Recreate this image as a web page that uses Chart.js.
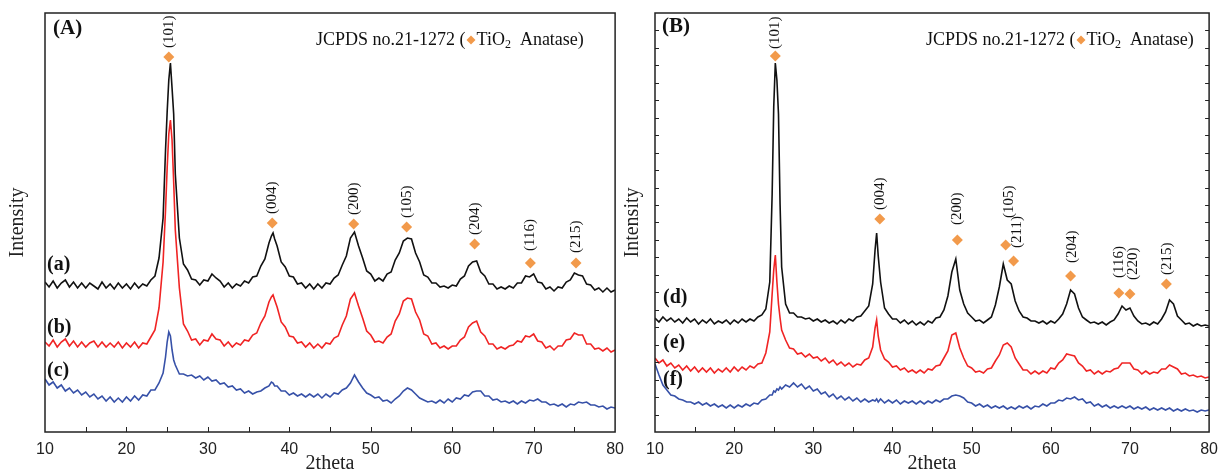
<!DOCTYPE html>
<html>
<head>
<meta charset="utf-8">
<script src="https://cdn.jsdelivr.net/npm/chart.js@4.4.1/dist/chart.umd.min.js"></script>
<style>
  html, body { margin: 0; padding: 0; background: #fff; }
  #wrap { position: relative; width: 1226px; height: 474px; overflow: hidden; }
  canvas { position: absolute; top: 0; }
  #chartA { left: 0; }
  #chartB { left: 620px; }
</style>
</head>
<body>
<div id="wrap">
  <canvas id="chartA" width="632" height="474"></canvas>
  <canvas id="chartB" width="606" height="474"></canvas>
</div>
<script>
// 2theta grid (deg), denser around the sharp peaks
var twoTheta = [
  10, 10.5, 11, 11.5, 12, 12.5, 13, 13.5, 14, 14.5,
  15, 15.5, 16, 16.5, 17, 17.5, 18, 18.5, 19, 19.5,
  20, 20.5, 21, 21.5, 22, 22.5, 23, 23.5, 24, 24.5,
  24.8, 25, 25.2, 25.4, 25.6, 25.8,
  26, 26.5, 27, 27.5, 28, 28.5, 29, 29.5, 30, 30.5,
  31, 31.5, 32, 32.5, 33, 33.5, 34, 34.5, 35, 35.5,
  36, 36.5, 37, 37.5, 37.8, 38, 38.2,
  38.5, 39, 39.5, 40, 40.5, 41, 41.5, 42, 42.5, 43,
  43.5, 44, 44.5, 45, 45.5, 46, 46.5, 47, 47.5, 48,
  48.5, 49, 49.5, 50, 50.5, 51, 51.5, 52, 52.5, 53,
  53.5, 54, 54.5, 55, 55.5, 56, 56.5, 57, 57.5, 58,
  58.5, 59, 59.5, 60, 60.5, 61, 61.5, 62, 62.5, 63,
  63.5, 64, 64.5, 65, 65.5, 66, 66.5, 67, 67.5, 68,
  68.5, 69, 69.5, 70, 70.5, 71, 71.5, 72, 72.5, 73,
  73.5, 74, 74.5, 75, 75.5, 76, 76.5, 77, 77.5, 78,
  78.5, 79, 79.5, 80
];

// panel (A) intensities, a.u. (stacked offsets as plotted)
var sampleA = [
  150, 145, 151, 144, 149, 152, 145, 150, 144, 149,
  144, 149, 146, 143, 150, 144, 148, 143, 149, 144,
  148, 143, 149, 144, 148, 146, 152, 156, 174, 214,
  282, 320, 352, 369, 344, 318,
  258, 194, 168, 162, 153, 152, 147, 152, 151, 158,
  154, 151, 145, 149, 144, 148, 146, 151, 149, 155,
  156, 166, 173, 189, 196, 199, 193,
  186, 170, 165, 156, 155, 148, 149, 144, 148, 143,
  148, 144, 149, 148, 154, 157, 167, 176, 194, 200,
  186, 174, 161, 158, 151, 154, 151, 158, 160, 172,
  179, 191, 194, 193, 179, 170, 157, 155, 149, 149,
  145, 146, 144, 147, 146, 153, 156, 166, 170, 171,
  160, 156, 148, 148, 143, 145, 143, 146, 144, 149,
  149, 156, 155, 158, 150, 149, 143, 145, 141, 145,
  144, 150, 152, 159, 157, 156, 148, 147, 142, 144,
  140, 144, 140, 142
];
var sampleB = [
  90, 86, 92, 85, 90, 93, 86, 91, 85, 90,
  85, 89, 91, 85, 90, 85, 89, 85, 90, 84,
  89, 85, 90, 84, 89, 88, 95, 102, 124, 170,
  222, 264, 298, 312, 292, 250,
  202, 144, 108, 101, 92, 93, 87, 92, 91, 98,
  93, 92, 86, 90, 85, 89, 87, 92, 91, 97,
  99, 109, 116, 130, 135, 137, 132,
  125, 110, 105, 96, 95, 89, 90, 85, 89, 84,
  88, 84, 89, 88, 94, 96, 107, 116, 133, 139,
  126, 114, 101, 97, 90, 91, 89, 95, 98, 111,
  118, 131, 134, 133, 120, 112, 98, 96, 88, 89,
  84, 86, 83, 86, 86, 92, 95, 105, 109, 111,
  100, 96, 88, 88, 83, 85, 83, 86, 87, 91,
  90, 96, 95, 98, 91, 90, 84, 86, 82, 86,
  86, 92, 93, 99, 97, 97, 88, 88, 83, 84,
  81, 84, 80, 82
];
var sampleC = [
  53, 47, 50, 44, 47, 41, 44, 39, 42, 37,
  40, 35, 38, 33, 36, 31, 35, 30, 34, 30,
  35, 31, 36, 32, 37, 36, 42, 42, 49, 59,
  75, 90, 100, 96, 82, 72,
  67, 58, 58, 56, 57, 54, 56, 52, 55, 51,
  52, 48, 49, 45, 46, 42, 43, 39, 41, 38,
  40, 41, 44, 46, 50, 49, 46,
  46, 41, 41, 37, 39, 36, 38, 35, 38, 35,
  38, 34, 38, 35, 39, 38, 42, 44, 49, 57,
  50, 44, 39, 37, 34, 35, 31, 32, 29, 33,
  36, 41, 44, 42, 38, 34, 32, 30, 31, 29,
  32, 29, 33, 30, 34, 33, 37, 36, 40, 41,
  41, 36, 36, 32, 33, 30, 31, 29, 31, 28,
  31, 29, 32, 31, 33, 30, 30, 27, 28, 26,
  28, 25, 28, 27, 30, 29, 30, 27, 27, 25,
  26, 23, 25, 24
];

// panel (B) intensities, a.u.
var sampleD = [
  114, 110, 115, 111, 114, 110, 113, 109, 114, 110,
  113, 108, 112, 109, 113, 108, 111, 109, 112, 108,
  112, 109, 113, 110, 113, 111, 115, 117, 123, 150,
  238, 325, 369, 352, 318, 228,
  165, 128, 119, 119, 115, 115, 113, 114, 111, 113,
  110, 112, 109, 111, 108, 112, 109, 113, 111, 115,
  116, 121, 126, 148, 182, 199, 176,
  150, 124, 118, 113, 113, 109, 112, 108, 111, 107,
  110, 107, 111, 109, 114, 115, 122, 136, 160, 173,
  142, 128, 119, 115, 111, 112, 109, 112, 115, 127,
  145, 168, 152, 148, 131, 121, 115, 114, 111, 111,
  109, 111, 108, 111, 109, 113, 118, 128, 142, 138,
  124, 115, 112, 109, 110, 108, 110, 107, 110, 112,
  118, 126, 122, 124, 116, 111, 108, 109, 107, 110,
  108, 113, 120, 132, 128, 116, 112, 108, 109, 106,
  108, 106, 107, 106
];
var sampleE = [
  74, 69, 72, 66, 69, 64, 67, 62, 66, 61,
  65, 60, 64, 60, 64, 59, 63, 60, 64, 60,
  65, 61, 65, 62, 66, 64, 68, 69, 79, 100,
  138, 162, 177, 150, 128, 114,
  102, 92, 84, 83, 78, 79, 75, 78, 74, 75,
  71, 74, 69, 72, 67, 70, 66, 69, 65, 68,
  67, 72, 74, 85, 104, 112, 96,
  82, 73, 70, 65, 66, 62, 64, 60, 62, 59,
  62, 59, 63, 62, 66, 67, 74, 81, 97, 99,
  84, 74, 66, 64, 60, 61, 59, 63, 64, 71,
  77, 87, 89, 85, 74, 68, 62, 62, 58, 61,
  58, 61, 59, 64, 63, 69, 72, 78, 77, 76,
  69, 66, 61, 62, 58, 61, 58, 61, 60, 63,
  64, 69, 69, 69, 63, 62, 58, 61, 58, 60,
  59, 63, 63, 67, 65, 63, 58, 59, 56, 57,
  55, 56, 54, 55
];
var sampleF = [
  68, 57, 47, 42, 37, 36, 33, 32, 30, 30,
  28, 30, 27, 29, 26, 28, 25, 27, 24, 27,
  24, 27, 25, 28, 26, 29, 28, 32, 33, 37,
  37, 41, 40, 43, 42, 45,
  43, 47, 45, 49, 45, 48, 43, 46, 41, 43,
  38, 40, 35, 38, 33, 36, 32, 35, 31, 34,
  30, 33, 30, 32, 31, 33, 30,
  33, 29, 32, 29, 32, 28, 31, 29, 31, 28,
  31, 28, 31, 29, 32, 30, 33, 33, 36, 37,
  36, 34, 30, 29, 26, 28, 25, 27, 24, 26,
  24, 26, 23, 25, 23, 26, 24, 26, 23, 26,
  25, 28, 26, 29, 29, 32, 31, 34, 33, 35,
  32, 33, 29, 30, 26, 28, 25, 27, 24, 26,
  24, 26, 24, 26, 23, 25, 23, 25, 22, 24,
  22, 24, 22, 24, 21, 23, 21, 23, 21, 22,
  20, 22, 21, 22
];

var namesA = ['(a)', '(b)', '(c)'];
var namesB = ['(d)', '(e)', '(f)'];

// anatase reflections: label, 2theta, marker height
var hklA = ['(101)', '(004)', '(200)', '(105)', '(204)', '(116)', '(215)'];
var peakA = [25.2, 37.9, 47.9, 54.4, 62.75, 69.6, 75.2];
var markA = [375, 209, 208, 205, 188, 169, 169];

var hklB = ['(101)', '(004)', '(200)', '(105)', '(211)', '(204)', '(116)', '(220)', '(215)'];
var peakB = [25.2, 38.4, 48.2, 54.3, 55.3, 62.5, 68.6, 70.0, 74.6];
var markB = [376, 213, 192, 187, 171, 156, 139, 138, 148];

var xTickValues = [10, 20, 30, 40, 50, 60, 70, 80];

var ORANGE = '#f29a4b';
var SERIF = '"Liberation Serif", "Times New Roman", serif';
var SANS = '"Liberation Sans", Arial, sans-serif';

function toPoints(xs, ys) {
  var pts = [];
  for (var i = 0; i < Math.min(xs.length, ys.length); i++) pts.push({x: xs[i], y: ys[i]});
  return pts;
}

function drawLegend(ctx, x, y) {
  ctx.save();
  ctx.textAlign = 'left';
  ctx.textBaseline = 'middle';
  ctx.fillStyle = '#111';
  ctx.font = '18px ' + SERIF;
  var s = 'JCPDS no.21-1272 (';
  ctx.fillText(s, x, y);
  x += ctx.measureText(s).width + 1;
  ctx.fillStyle = ORANGE;
  ctx.beginPath();
  ctx.moveTo(x + 4.5, y - 4.5);
  ctx.lineTo(x + 9, y);
  ctx.lineTo(x + 4.5, y + 4.5);
  ctx.lineTo(x, y);
  ctx.closePath();
  ctx.fill();
  x += 10;
  ctx.fillStyle = '#111';
  ctx.fillText('TiO', x, y);
  x += ctx.measureText('TiO').width;
  ctx.font = '12px ' + SERIF;
  ctx.fillText('2', x, y + 5);
  x += ctx.measureText('2').width;
  ctx.font = '18px ' + SERIF;
  ctx.fillText('  Anatase)', x, y);
  ctx.restore();
}

// frame, inward ticks, hkl labels, sample names, panel letter, legend
function makeDecor(cfg) {
  return {
    id: 'xrdDecor',
    afterDatasetsDraw: function (chart) {
      var ctx = chart.ctx, a = chart.chartArea;
      var xs = chart.scales.x, ys = chart.scales.y;
      ctx.save();
      ctx.strokeStyle = '#222';
      ctx.lineWidth = 1.5;
      ctx.strokeRect(a.left, a.top, a.right - a.left, a.bottom - a.top);

      ctx.lineWidth = 1;
      ctx.beginPath();
      for (var v = 15; v < 80; v += 5) {
        var px = Math.round(xs.getPixelForValue(v)) + 0.5;
        ctx.moveTo(px, a.bottom);
        ctx.lineTo(px, a.bottom - 5);
      }
      if (cfg.yTickStep) {
        for (var t = cfg.yTickStep; t < ys.max - 1; t += cfg.yTickStep) {
          var py = Math.round(ys.getPixelForValue(t)) + 0.5;
          ctx.moveTo(a.left, py); ctx.lineTo(a.left + 4, py);
          ctx.moveTo(a.right, py); ctx.lineTo(a.right - 4, py);
        }
      }
      ctx.stroke();

      // reflection labels, rotated
      ctx.fillStyle = '#111';
      ctx.font = '15px ' + SERIF;
      ctx.textAlign = 'left';
      ctx.textBaseline = 'middle';
      cfg.hkl.forEach(function (lab, i) {
        var x = xs.getPixelForValue(cfg.peaks[i]) + (cfg.dx[i] || 0);
        var y = ys.getPixelForValue(cfg.marks[i]) - cfg.gaps[i];
        ctx.save();
        ctx.translate(x, y);
        ctx.rotate(-Math.PI / 2);
        ctx.fillText(lab, 0, 0);
        ctx.restore();
      });

      ctx.font = 'bold 20px ' + SERIF;
      cfg.names.forEach(function (n, i) {
        ctx.fillText(n, a.left + cfg.nameX, cfg.nameY[i]);
      });
      ctx.font = 'bold 21px ' + SERIF;
      ctx.fillText(cfg.panel, a.left + cfg.panelX, cfg.panelY);

      drawLegend(ctx, a.left + 271, a.top + 27);
      ctx.restore();
    }
  };
}

function makeChart(id, series, colors, peaks, marks, decor, yPad, padRight, leftW) {
  var datasets = [{
    data: toPoints(peaks, marks),
    pointStyle: 'rectRot',
    pointRadius: 5.5,
    backgroundColor: ORANGE,
    borderColor: ORANGE,
    borderWidth: 0,
    showLine: false
  }];
  for (var i = series.length - 1; i >= 0; i--) {
    datasets.push({
      data: toPoints(twoTheta, series[i]),
      showLine: true,
      borderColor: colors[i],
      borderWidth: 1.6,
      pointRadius: 0,
      tension: 0
    });
  }
  return new Chart(document.getElementById(id), {
    type: 'scatter',
    data: {datasets: datasets},
    options: {
      responsive: false,
      animation: false,
      events: [],
      layout: {padding: {top: 13, right: padRight, left: 0, bottom: 0}},
      plugins: {legend: {display: false}, tooltip: {enabled: false}},
      scales: {
        x: {
          type: 'linear', min: 10, max: 80,
          afterBuildTicks: function (s) { s.ticks = xTickValues.map(function (v) { return {value: v}; }); },
          afterFit: function (s) { s.height = 42; },
          grid: {display: false, drawTicks: false},
          border: {display: false},
          ticks: {color: '#222', padding: 8, font: {family: SANS, size: 16}},
          title: {display: true, text: '2theta', color: '#222', padding: {top: 0, bottom: 0},
                  font: {family: SERIF, size: 20, lineHeight: 1}}
        },
        y: {
          type: 'linear', min: 0, max: 419,
          afterFit: function (s) { s.width = leftW; },
          grid: {display: false, drawTicks: false},
          border: {display: false},
          ticks: {display: false},
          title: {display: true, text: 'Intensity', color: '#222', padding: {top: yPad, bottom: 0},
                  font: {family: SERIF, size: 20, lineHeight: 1}}
        }
      }
    },
    plugins: [makeDecor(decor)]
  });
}

makeChart('chartA', [sampleA, sampleB, sampleC], ['#111111', '#f02424', '#3751a8'], peakA, markA, {
  hkl: hklA, peaks: peakA, marks: markA,
  gaps: [9, 9, 9, 9, 9, 12, 10], dx: [],
  names: namesA, nameX: 2, nameY: [265, 328, 371],
  panel: '(A)', panelX: 8, panelY: 29, yTickStep: 0
}, 8, 15, 45);

makeChart('chartB', [sampleD, sampleE, sampleF], ['#111111', '#f02424', '#3751a8'], peakB, markB, {
  hkl: hklB, peaks: peakB, marks: markB,
  gaps: [7, 9, 15, 27, 13, 13, 15, 14, 9], dx: [0, 0, 0, 3, 3, 1, 0, 3, 1],
  names: namesB, nameX: 8, nameY: [298, 343, 380],
  panel: '(B)', panelX: 7, panelY: 27, yTickStep: 419 / 24
}, 3, 12, 35);
</script>
</body>
</html>
